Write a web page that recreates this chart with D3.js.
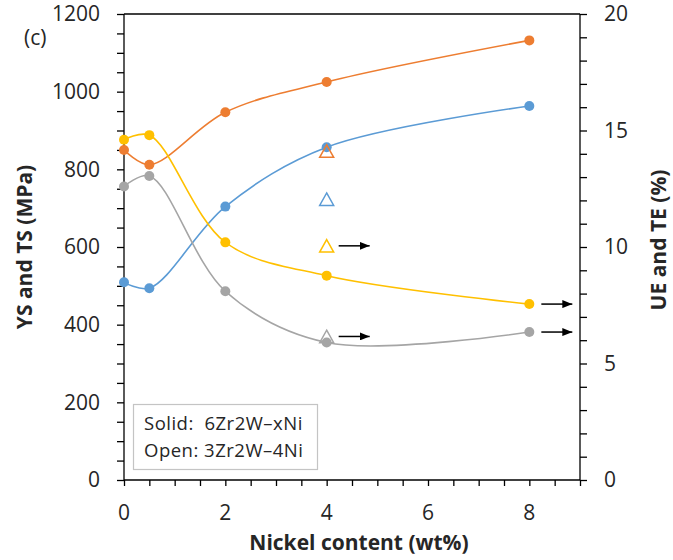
<!DOCTYPE html>
<html>
<head>
<meta charset="utf-8">
<script src="https://cdn.jsdelivr.net/npm/d3@7"></script>
<style>
  html, body { margin: 0; padding: 0; background: #fff; }
  svg { display: block; font-family: "Open Sans", Lato, sans-serif; }
</style>
</head>
<body>
<svg id="chart" width="673" height="560"></svg>
<script>
// Nickel content (wt%) of the 6Zr2W–xNi alloys
const nickel = [0, 0.5, 2, 4, 8];
// Strength (MPa), left axis
const tensileStrength = [850, 812, 947, 1025, 1132];
const yieldStrength   = [509, 494, 704, 857, 963];
// Elongation (%), right axis
const totalElong   = [14.6, 14.8, 10.2, 8.77, 7.55];
const uniformElong = [12.6, 13.05, 8.1, 5.9, 6.35];

// 3Zr2W–4Ni reference alloy (open markers)
const openNickel = 4;
const openTS = 847, openYS = 723, openTE = 10.05, openUE = 6.16;

// Elongations that are lower bounds (specimen did not fracture) get an arrow
const arrowsRight = [
  { x: 4, v: 10.05 },
  { x: 4, v: 6.16 },
  { x: 8, v: 7.55 },
  { x: 8, v: 6.35 }
];

const leftTicks = [0, 200, 400, 600, 800, 1000, 1200];
const rightTicks = [0, 5, 10, 15, 20];
const xTicks = [0, 2, 4, 6, 8];

const colors = { ts: "#ED7D31", ys: "#5B9BD5", te: "#FFC000", ue: "#A5A5A5" };

const svg = d3.select("#chart");
const margin = { top: 14, right: 93, bottom: 80, left: 124 };
const W = 673, H = 560;
const innerW = W - margin.left - margin.right;
const innerH = H - margin.top - margin.bottom;

const x = d3.scaleLinear().domain([0, 9]).range([margin.left, margin.left + innerW]);
const yL = d3.scaleLinear().domain([0, 1200]).range([margin.top + innerH, margin.top]);
const yR = d3.scaleLinear().domain([0, 20]).range([margin.top + innerH, margin.top]);

const axisColor = "#000";
const labelColor = "#262626";

// Frame: top border
svg.append("line")
  .attr("x1", x(0)).attr("x2", x(9))
  .attr("y1", yL(1200)).attr("y2", yL(1200))
  .attr("stroke", axisColor).attr("stroke-width", 1.3);

// Left axis
const gL = svg.append("g").attr("transform", `translate(${x(0)},0)`)
  .call(d3.axisLeft(yL).tickValues(d3.range(0, 1201, 50)).tickSize(7).tickFormat(""));
gL.selectAll("path,line").attr("stroke", axisColor).attr("stroke-width", 1.3);
gL.select(".domain").attr("d", `M0,${yL(0)}V${yL(1200)}`);
svg.append("g").selectAll("text").data(leftTicks).join("text")
  .attr("x", 100).attr("y", d => yL(d)).attr("dy", "0.35em")
  .attr("text-anchor", "end").attr("font-size", 21).attr("fill", labelColor)
  .text(d => d);

// Right axis
const gR = svg.append("g").attr("transform", `translate(${x(9)},0)`)
  .call(d3.axisRight(yR).tickValues(d3.range(0, 21, 1)).tickSize(7).tickFormat(""));
gR.selectAll("path,line").attr("stroke", axisColor).attr("stroke-width", 1.3);
gR.select(".domain").attr("d", `M0,${yR(0)}V${yR(20)}`);
svg.append("g").selectAll("text").data(rightTicks).join("text")
  .attr("x", 604).attr("y", d => yR(d)).attr("dy", "0.35em")
  .attr("text-anchor", "start").attr("font-size", 21).attr("fill", labelColor)
  .text(d => d);

// Bottom axis
const gB = svg.append("g").attr("transform", `translate(0,${yL(0)})`)
  .call(d3.axisBottom(x).tickValues(d3.range(0, 9.01, 0.5)).tickSize(6).tickFormat(""));
gB.selectAll("path,line").attr("stroke", axisColor).attr("stroke-width", 1.3);
gB.select(".domain").attr("d", `M${x(0)},0H${x(9)}`);
svg.append("g").selectAll("text").data(xTicks).join("text")
  .attr("x", d => x(d)).attr("y", 513).attr("dy", "0.35em")
  .attr("text-anchor", "middle").attr("font-size", 21).attr("fill", labelColor)
  .text(d => d);

// Axis titles
svg.append("text").attr("x", 359).attr("y", 543).attr("dy", "0.35em")
  .attr("text-anchor", "middle").attr("font-size", 21).attr("font-weight", "bold")
  .attr("fill", labelColor).text("Nickel content (wt%)");
svg.append("text").attr("transform", "translate(25,247) rotate(-90)").attr("dy", "0.35em")
  .attr("text-anchor", "middle").attr("font-size", 21).attr("font-weight", "bold")
  .attr("fill", labelColor).text("YS and TS (MPa)");
svg.append("text").attr("transform", "translate(659,240) rotate(-90)").attr("dy", "0.35em")
  .attr("text-anchor", "middle").attr("font-size", 21).attr("font-weight", "bold")
  .attr("fill", labelColor).text("UE and TE (%)");

// Panel letter
svg.append("text").attr("x", 24).attr("y", 38).attr("dy", "0.35em")
  .attr("font-size", 21).attr("fill", labelColor).text("(c)");

// Smoothed series lines
const curve = d3.curveCatmullRom.alpha(0.5);
function series(values, yScale, color) {
  const pts = nickel.map((n, i) => [n, values[i]]);
  svg.append("path").datum(pts)
    .attr("fill", "none").attr("stroke", color).attr("stroke-width", 1.6)
    .attr("d", d3.line().x(d => x(d[0])).y(d => yScale(d[1])).curve(curve));
  return pts;
}
function dots(pts, yScale, color) {
  svg.append("g").selectAll("circle").data(pts).join("circle")
    .attr("cx", d => x(d[0])).attr("cy", d => yScale(d[1])).attr("r", 5)
    .attr("fill", color);
}
function openTri(xv, yPix, color) {
  const w = 14, h = 12.5, cx = x(xv), cy = yPix;
  svg.append("path")
    .attr("d", `M${cx},${cy - h / 2}L${cx + w / 2},${cy + h / 2}L${cx - w / 2},${cy + h / 2}Z`)
    .attr("fill", "none").attr("stroke", color).attr("stroke-width", 1.5);
}

const tsPts = series(tensileStrength, yL, colors.ts);
const ysPts = series(yieldStrength, yL, colors.ys);
const tePts = series(totalElong, yR, colors.te);
const uePts = series(uniformElong, yR, colors.ue);

dots(tsPts, yL, colors.ts);
dots(ysPts, yL, colors.ys);
openTri(openNickel, yL(openTS), colors.ts);
openTri(openNickel, yL(openYS), colors.ys);
openTri(openNickel, yR(openTE), colors.te);
openTri(openNickel, yR(openUE), colors.ue);
dots(tePts, yR, colors.te);
dots(uePts, yR, colors.ue);

// Arrows marking lower-bound elongations
svg.append("defs").append("marker")
  .attr("id", "arrowhead").attr("viewBox", "0 0 10 8")
  .attr("refX", 10).attr("refY", 4)
  .attr("markerWidth", 10).attr("markerHeight", 8)
  .attr("markerUnits", "userSpaceOnUse").attr("orient", "auto")
  .append("path").attr("d", "M0,0L10,4L0,8Z").attr("fill", "#000");
svg.append("g").selectAll("line").data(arrowsRight).join("line")
  .attr("x1", d => x(d.x) + 12).attr("x2", d => x(d.x) + 43)
  .attr("y1", d => yR(d.v)).attr("y2", d => yR(d.v))
  .attr("stroke", "#000").attr("stroke-width", 1.5)
  .attr("marker-end", "url(#arrowhead)");

// Legend box
const lg = svg.append("g");
lg.append("rect").attr("x", 133.5).attr("y", 404.5).attr("width", 184).attr("height", 65)
  .attr("fill", "#fff").attr("stroke", "#c4c4c4").attr("stroke-width", 1.2);
lg.append("text").attr("x", 144).attr("y", 424).attr("dy", "0.35em")
  .attr("font-size", 18.5).attr("letter-spacing", 0.5).attr("fill", labelColor)
  .text("Solid:\u00A0 6Zr2W–xNi");
lg.append("text").attr("x", 144).attr("y", 451).attr("dy", "0.35em")
  .attr("font-size", 18.5).attr("letter-spacing", 0.5).attr("fill", labelColor)
  .text("Open: 3Zr2W–4Ni");
</script>
</body>
</html>
